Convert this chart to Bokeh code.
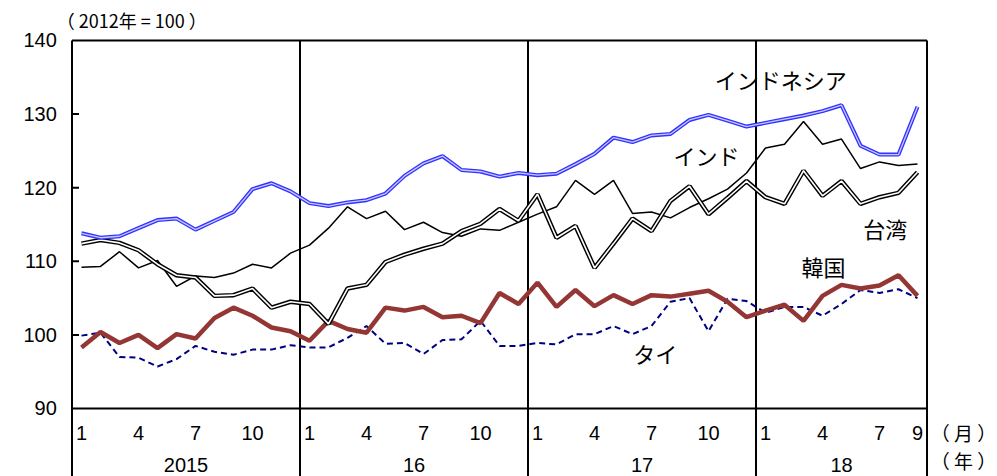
from bokeh.plotting import figure
from bokeh.models import ColumnDataSource, Range1d
from bokeh.core.properties import value
from bokeh.embed import file_html
from bokeh.resources import INLINE

months = list(range(1, 46))

indonesia = [113.8, 113.2, 113.4, 114.5, 115.6, 115.8, 114.3, 115.5, 116.7, 119.8, 120.6, 119.5,
             117.9, 117.5, 118.0, 118.3, 119.2, 121.6, 123.3, 124.3, 122.4, 122.2, 121.5, 122.0,
             121.7, 121.9, 123.2, 124.6, 126.8, 126.2, 127.1, 127.3, 129.2, 129.9, 129.1, 128.3,
             128.8, 129.3, 129.8, 130.4, 131.2, 125.7, 124.5, 124.5, 131.0]
india = [109.2, 109.3, 111.3, 109.1, 110.1, 106.6, 108.0, 107.8, 108.4, 109.6, 109.1, 111.1,
         112.2, 114.5, 117.4, 115.8, 116.8, 114.3, 115.3, 113.9, 113.4, 114.4, 114.2, 115.3,
         116.4, 117.4, 121.0, 119.1, 121.0, 116.5, 116.7, 115.9, 117.3, 118.5, 119.8, 122.0,
         125.4, 125.9, 129.0, 125.9, 126.6, 122.6, 123.5, 123.0, 123.2]
taiwan = [112.4, 112.9, 112.5, 111.5, 109.6, 108.1, 107.8, 105.3, 105.4, 106.3, 103.7, 104.5,
          104.2, 101.5, 106.3, 106.8, 109.9, 110.9, 111.7, 112.4, 114.1, 115.1, 117.1, 115.5,
          119.1, 113.2, 114.8, 109.1, 112.4, 115.8, 114.1, 118.2, 120.2, 116.4, 118.6, 120.9,
          118.7, 117.8, 122.3, 118.9, 120.9, 117.8, 118.7, 119.3, 122.1]
korea = [98.3, 100.4, 98.9, 100.0, 98.2, 100.1, 99.5, 102.3, 103.7, 102.6, 101.0, 100.5,
         99.2, 101.9, 100.8, 100.3, 103.7, 103.3, 103.8, 102.4, 102.6, 101.6, 105.7, 104.2,
         107.1, 103.8, 106.1, 103.9, 105.4, 104.2, 105.4, 105.2, 105.6, 106.0, 104.5, 102.4,
         103.3, 104.1, 101.9, 105.3, 106.8, 106.3, 106.7, 108.1, 105.3]
thailand = [99.9, 100.3, 97.0, 96.9, 95.7, 96.7, 98.5, 97.7, 97.3, 98.0, 98.0, 98.6,
            98.3, 98.3, 99.6, 101.2, 98.8, 98.9, 97.4, 99.3, 99.4, 101.9, 98.5, 98.5,
            98.9, 98.7, 100.1, 100.1, 101.2, 100.1, 101.2, 104.5, 105.0, 100.5, 104.9, 104.6,
            103.0, 103.8, 103.8, 102.6, 104.2, 106.1, 105.7, 106.2, 105.0]

y_ticks = [90, 100, 110, 120, 130, 140]
month_ticks = [1, 4, 7, 10, 13, 16, 19, 22, 25, 28, 31, 34, 37, 40, 43, 45]
month_labels = ["1", "4", "7", "10", "1", "4", "7", "10", "1", "4", "7", "10", "1", "4", "7", "9"]
year_pos = [6.5, 18.5, 30.5, 41.0]
year_labels = ["2015", "16", "17", "18"]
dividers = [0.5, 12.5, 24.5, 36.5, 45.5]

FONT = value("Liberation Sans")
JP = value("Noto Sans CJK JP")
Y_BOTTOM = 80.76

p = figure(width=997, height=476, output_backend="svg", toolbar_location=None,
           x_range=Range1d(-3.263, 49.21), y_range=Range1d(Y_BOTTOM, 145.43),
           min_border=0)
p.axis.visible = False
p.grid.visible = False
p.outline_line_color = None

# frame and year dividers
p.line([0.5, 45.5], [140, 140], line_color="black", line_width=2)
p.line([0.5, 45.5], [90, 90], line_color="black", line_width=2)
for d in dividers:
    p.line([d, d], [Y_BOTTOM, 140], line_color="black", line_width=2)
# inward y ticks
for t in y_ticks[1:-1]:
    p.line([0.5, 0.87], [t, t], line_color="black", line_width=2)

p.text(x=[-0.3] * len(y_ticks), y=y_ticks, text=[str(t) for t in y_ticks],
       text_align="right", text_baseline="middle", text_font=FONT, text_font_size="20px")
p.text(x=month_ticks, y=[86.7] * len(month_ticks), text=month_labels,
       text_align="center", text_baseline="middle", text_font=FONT, text_font_size="20px")
p.text(x=year_pos, y=[82.3] * len(year_pos), text=year_labels,
       text_align="center", text_baseline="middle", text_font=FONT, text_font_size="20px")
p.text(x=[-0.3], y=[142.8], text=["（ 2012年 = 100 ）"], text_baseline="middle",
       text_font=JP, text_font_size="18px")
p.text(x=[45.7, 45.7], y=[86.7, 83.0], text=["（ 月 ）", "（ 年 ）"], text_baseline="middle",
       text_font=JP, text_font_size="19px")

src = ColumnDataSource(dict(m=months, ind=indonesia, ia=india, tw=taiwan, kr=korea, th=thailand))
p.line("m", "th", source=src, line_color="#000080", line_width=2, line_dash="6 4")
p.line("m", "kr", source=src, line_color="#943634", line_width=4.5)
p.line("m", "ia", source=src, line_color="black", line_width=1.5)
p.line("m", "tw", source=src, line_color="black", line_width=4.5)
p.line("m", "tw", source=src, line_color="white", line_width=1.6)
p.line("m", "ind", source=src, line_color="#3333ff", line_width=4)
p.line("m", "ind", source=src, line_color="#c8c8ff", line_width=1.3)

p.text(x=[37.8, 33.9, 43.3, 40.05, 31.2], y=[134.8, 124.4, 114.5, 109.4, 97.6],
       text=["インドネシア", "インド", "台湾", "韓国", "タイ"],
       text_align="center", text_baseline="middle", text_font=JP, text_font_size="22px")

open("out.html", "w").write(file_html(p, INLINE))
